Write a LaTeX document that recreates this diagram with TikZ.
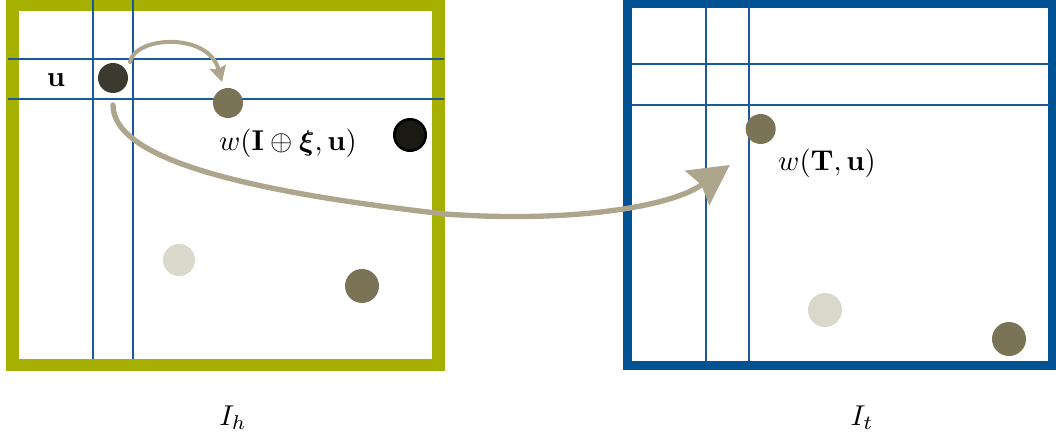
\documentclass[tikz,border=0pt]{standalone}
\usepackage{amsmath,amssymb,bm}
\usetikzlibrary{arrows.meta,calc}

\definecolor{framegreen}{HTML}{A5B000}
\definecolor{frameblue}{HTML}{005293}
\definecolor{gridblue}{HTML}{1A5A98}
\definecolor{flowtan}{HTML}{ADA68C}
\definecolor{dotdark}{HTML}{3B3A2E}
\definecolor{dotmid}{HTML}{7A7356}
\definecolor{dotblack}{HTML}{1A1A12}
\definecolor{dotlight}{HTML}{D9D8CB}

\tikzset{
  hframe/.style={draw=framegreen, line width=9.4pt},
  tframe/.style={draw=frameblue, line width=6.8pt},
  gridline/.style={draw=gridblue, line width=1.4pt},
  dot/.style={circle, inner sep=0pt, draw=none},
  flow/.style={draw=flowtan, line cap=round},
  lbl/.style={inner sep=0pt, scale=2.15},
}

\begin{document}
\begin{tikzpicture}[x=0.75pt, y=-0.75pt]
  \useasboundingbox (0,0) rectangle (1056,438);

  % source image I_h
  \draw[hframe] (12.5,4.5) rectangle (438.5,365);
  \draw[gridline] (8,58.7) -- (444,58.7);
  \draw[gridline] (8,98.7) -- (444,98.7);
  \draw[gridline] (93.3,0) -- (93.3,359);
  \draw[gridline] (133.3,0) -- (133.3,359);

  % target image I_t
  \draw[tframe] (627.5,3.5) rectangle (1052.5,365.5);
  \draw[gridline] (632,64) -- (1049,64);
  \draw[gridline] (632,104.7) -- (1049,104.7);
  \draw[gridline] (706.3,8) -- (706.3,361);
  \draw[gridline] (748.7,8) -- (748.7,361);

  % points in I_h
  \node[dot, fill=dotdark, minimum size=22.5pt] (u) at (113,78) {};
  \node[dot, fill=dotmid, minimum size=22.5pt] (hw) at (228,103) {};
  \node[dot, fill=dotblack, draw=black, line width=1.9pt, minimum size=23.6pt] (hb) at (410,135) {};
  \node[dot, fill=dotlight, minimum size=24pt] (hl) at (179,260) {};
  \node[dot, fill=dotmid, minimum size=25.5pt] (hd) at (362,286) {};

  % points in I_t
  \node[dot, fill=dotmid, minimum size=22.5pt] (tw) at (760.7,129) {};
  \node[dot, fill=dotlight, minimum size=25.5pt] (tl) at (825,310) {};
  \node[dot, fill=dotmid, minimum size=25.5pt] (td) at (1009,339) {};

  % labels
  \node[lbl] (ulbl) at (56,80.5) {$\mathbf{u}$};
  \node[lbl] (hwlbl) at (288,143) {$w(\mathbf{I}\oplus\bm{\xi},\mathbf{u})$};
  \node[lbl] (twlbl) at (827,163) {$w(\mathbf{T},\mathbf{u})$};
  \node[lbl, anchor=base] (ih) at (233,425) {$I_h$};
  \node[lbl, anchor=base] (it) at (862,425) {$I_t$};

  % warping within I_h
  \coordinate (s1) at ($(u)+(17,-16)$);
  \coordinate (e1) at ($(hw)+(-6,-21)$);
  \draw[flow, line width=3pt,
        -{Stealth[length=12pt,width=13pt,inset=2pt,line width=0pt,fill=flowtan]}]
    (s1) .. controls ($(s1)+(5,-26)$) and ($(e1)+(-14,-50)$) .. (e1);

  % transfer from I_h to I_t
  \coordinate (s2) at ($(u)+(0,27)$);
  \coordinate (m2) at (445,214);
  \coordinate (e2) at ($(tw)+(-31,36)$);
  \draw[flow, line width=4pt,
        -{Stealth[length=30pt,width=32pt,inset=4pt,line width=0pt,fill=flowtan]}]
    (s2) .. controls ($(s2)+(0,55)$) and (250,192) .. (m2)
         .. controls (570,223) and (670,207) .. (e2);
\end{tikzpicture}
\end{document}
